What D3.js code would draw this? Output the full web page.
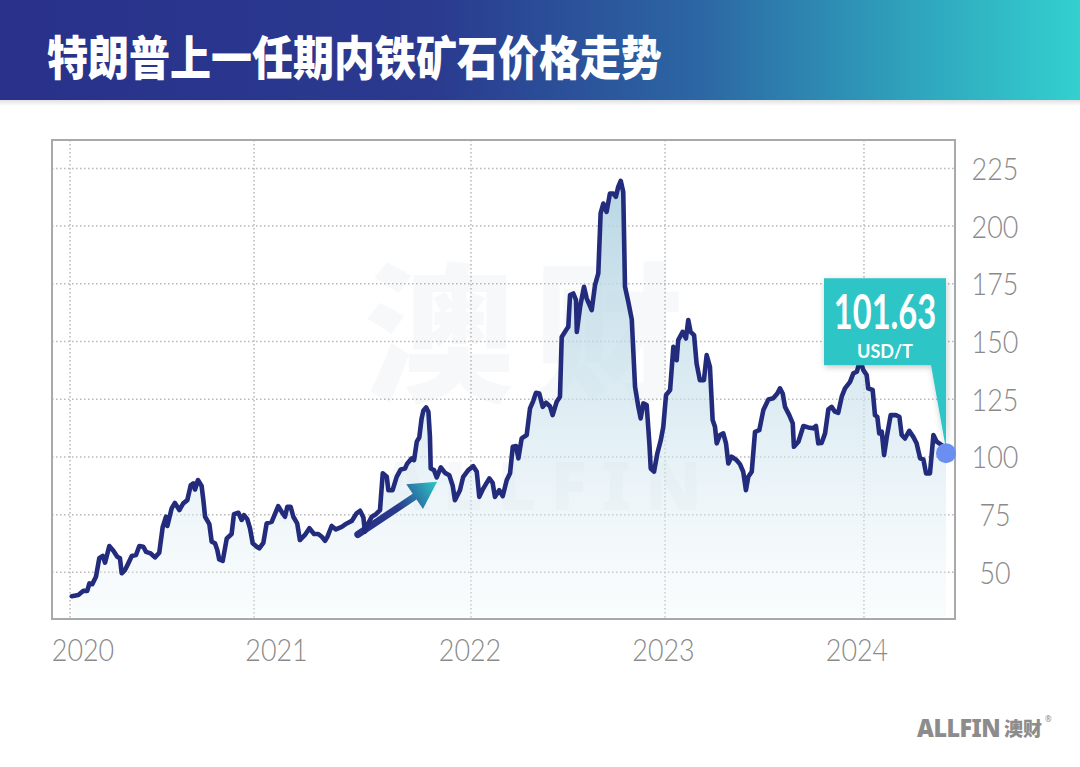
<!DOCTYPE html>
<html><head><meta charset="utf-8">
<script src="https://cdn.jsdelivr.net/npm/d3@7"></script>
<style>
html,body{margin:0;padding:0;background:#fff;}
svg{display:block;}
</style></head>
<body>
<svg id="c" width="1080" height="767"></svg>
<script>
const title = "特朗普上一任期内铁矿石价格走势";
const xTickLabels = [2020, 2021, 2022, 2023, 2024];
const xGridYears = [2019.933, 2020.884, 2022.005, 2023.008, 2024.036];
const yTicks = [50, 75, 100, 125, 150, 175, 200, 225];
const calloutValue = "101.63";
const calloutUnit = "USD/T";
const years = [2019.942,2019.976,2020.002,2020.022,2020.033,2020.048,2020.067,2020.084,2020.102,2020.114,2020.136,2020.157,2020.177,2020.191,2020.200,2020.217,2020.234,2020.252,2020.274,2020.291,2020.312,2020.326,2020.350,2020.372,2020.394,2020.412,2020.429,2020.436,2020.458,2020.475,2020.498,2020.518,2020.539,2020.557,2020.570,2020.579,2020.594,2020.613,2020.622,2020.631,2020.653,2020.665,2020.682,2020.694,2020.704,2020.722,2020.743,2020.768,2020.780,2020.803,2020.820,2020.832,2020.849,2020.863,2020.877,2020.898,2020.911,2020.932,2020.949,2020.975,2021.009,2021.027,2021.044,2021.056,2021.073,2021.087,2021.107,2021.121,2021.147,2021.170,2021.194,2021.216,2021.234,2021.251,2021.263,2021.285,2021.307,2021.337,2021.363,2021.389,2021.414,2021.432,2021.449,2021.457,2021.474,2021.492,2021.514,2021.535,2021.549,2021.570,2021.578,2021.600,2021.621,2021.642,2021.664,2021.676,2021.699,2021.711,2021.725,2021.738,2021.750,2021.759,2021.773,2021.785,2021.793,2021.797,2021.814,2021.828,2021.849,2021.871,2021.893,2021.911,2021.922,2021.948,2021.965,2021.991,2022.017,2022.035,2022.048,2022.069,2022.100,2022.117,2022.129,2022.151,2022.169,2022.190,2022.207,2022.221,2022.238,2022.250,2022.267,2022.293,2022.310,2022.327,2022.341,2022.358,2022.376,2022.393,2022.413,2022.427,2022.448,2022.465,2022.474,2022.496,2022.508,2022.517,2022.534,2022.548,2022.552,2022.569,2022.589,2022.603,2022.629,2022.646,2022.663,2022.675,2022.689,2022.706,2022.723,2022.740,2022.754,2022.766,2022.779,2022.792,2022.801,2022.818,2022.836,2022.853,2022.870,2022.882,2022.896,2022.913,2022.927,2022.934,2022.951,2022.968,2022.986,2022.999,2023.013,2023.034,2023.051,2023.068,2023.076,2023.099,2023.116,2023.128,2023.140,2023.158,2023.171,2023.188,2023.209,2023.223,2023.240,2023.254,2023.266,2023.275,2023.292,2023.309,2023.323,2023.335,2023.352,2023.378,2023.395,2023.412,2023.426,2023.438,2023.456,2023.473,2023.495,2023.516,2023.542,2023.567,2023.588,2023.602,2023.616,2023.628,2023.650,2023.668,2023.674,2023.697,2023.723,2023.748,2023.774,2023.788,2023.800,2023.817,2023.835,2023.852,2023.869,2023.886,2023.903,2023.921,2023.938,2023.964,2023.981,2023.999,2024.016,2024.033,2024.050,2024.058,2024.081,2024.093,2024.105,2024.115,2024.128,2024.140,2024.154,2024.174,2024.201,2024.219,2024.231,2024.248,2024.270,2024.291,2024.308,2024.326,2024.343,2024.357,2024.377,2024.395,2024.412,2024.438,2024.460];
const prices = [39.7,40.2,42.0,42.0,45.2,44.9,48.1,56.1,57.1,54.2,61.4,59.4,56.8,56.1,49.6,51.0,53.9,57.1,57.5,61.4,61.1,58.9,58.2,56.5,58.5,69.7,74.1,70.1,77.7,80.1,77.0,79.9,81.3,87.8,88.5,85.9,90.0,87.4,81.3,74.1,70.9,63.3,62.6,59.7,55.6,55.0,64.7,66.6,75.2,75.8,72.7,74.8,73.0,69.1,62.6,61.1,60.4,62.8,71.2,71.9,78.7,76.2,74.1,78.4,78.4,74.1,71.2,64.0,66.2,69.1,66.6,66.6,65.4,63.7,65.4,70.1,68.6,69.7,71.2,72.3,75.6,76.7,73.8,67.6,71.2,74.1,75.2,77.0,92.9,91.4,85.6,85.6,91.4,94.6,95.0,97.2,99.4,98.6,106.6,108.5,116.7,120.0,121.5,119.6,108.7,95.0,94.3,91.1,95.5,93.1,92.1,87.4,81.3,85.6,91.4,94.3,96.0,93.6,82.7,86.4,90.7,88.8,82.7,85.6,83.0,90.0,92.9,104.4,104.7,99.4,108.0,109.5,121.0,124.3,127.8,127.5,121.7,123.5,122.0,118.1,123.9,126.1,152.0,154.9,156.4,170.1,170.8,167.9,154.2,165.0,173.7,168.7,163.6,174.4,179.5,205.5,209.8,206.2,214.1,214.1,212.7,217.0,219.6,214.8,173.7,167.2,159.6,130.4,121.7,116.7,123.2,122.5,105.9,95.0,93.6,101.5,107.3,113.1,126.8,129.0,147.7,141.9,150.6,154.2,151.3,159.3,154.2,152.8,140.5,133.3,133.3,144.1,139.0,116.0,113.1,105.9,109.5,110.2,105.9,97.2,100.1,98.6,96.9,93.6,85.6,91.4,93.6,110.9,111.6,120.3,124.9,125.4,127.5,129.7,127.5,121.7,118.1,114.5,104.4,106.6,113.4,112.8,112.4,113.4,105.9,106.1,110.2,120.6,121.7,119.6,119.1,126.1,129.7,132.5,136.2,136.9,141.9,137.6,135.5,129.7,129.0,118.1,117.4,110.2,110.9,100.8,108.7,118.1,118.1,117.4,109.5,108.0,111.3,108.7,105.9,99.4,98.9,92.9,92.9,109.5,106.6,105.1,101.63];
const arrowFrom = [2021.420, 66.4];
const arrowTo = [2021.830, 89.3];

const data = years.map((t,i)=>({t, v: prices[i]}));
const svg = d3.select("#c");
const defs = svg.append("defs");

// header gradient
const hg = defs.append("linearGradient").attr("id","hg").attr("x1","0").attr("x2","1").attr("y1","0").attr("y2","0");
[[0,"#29318a"],[0.4,"#2a3a8f"],[0.65,"#2c67a4"],[0.85,"#2fa5bd"],[1,"#33d0cf"]].forEach(s=>hg.append("stop").attr("offset",s[0]).attr("stop-color",s[1]));
const sh = defs.append("linearGradient").attr("id","sh").attr("x1","0").attr("x2","0").attr("y1","0").attr("y2","1");
sh.append("stop").attr("offset",0).attr("stop-color","#000").attr("stop-opacity",0.12);
sh.append("stop").attr("offset",1).attr("stop-color","#000").attr("stop-opacity",0);

svg.append("rect").attr("x",0).attr("y",100).attr("width",1080).attr("height",6).attr("fill","url(#sh)");
svg.append("rect").attr("x",0).attr("y",0).attr("width",1080).attr("height",100).attr("fill","url(#hg)");
svg.append("text").text(title)
  .attr("transform","translate(47,75) scale(1,1.15)")
  .attr("font-family","'Noto Sans CJK SC'").attr("font-weight",900).attr("font-size",41)
  .attr("fill","#fff");

// scales
const L=52, R=955, T=140, B=619;
const x = d3.scaleLinear().domain([2020,2024]).range([83,857]);
const y = d3.scaleLinear().domain([29.8,237.3]).range([B,T]);

// grid
const g = svg.append("g");
g.selectAll(".hg").data(yTicks).join("line")
  .attr("x1",L).attr("x2",R).attr("y1",d=>y(d)).attr("y2",d=>y(d))
  .attr("stroke","#b8b8b8").attr("stroke-width",1.5).attr("stroke-dasharray","1.5,2.5");
g.selectAll(".vg").data(xGridYears).join("line")
  .attr("x1",d=>x(d)).attr("x2",d=>x(d)).attr("y1",T).attr("y2",B)
  .attr("stroke","#b8b8b8").attr("stroke-width",1.5).attr("stroke-dasharray","1.5,2.5");

// watermark
const wm = svg.append("g").attr("opacity",0.028).attr("fill","#1d3b5c");
wm.append("text").text("澳财").attr("x",364).attr("y",390).attr("font-family","'Noto Sans CJK SC'").attr("font-weight",900).attr("font-size",150).attr("letter-spacing",20);
wm.append("text").text("ALLFIN").attr("x",380).attr("y",510).attr("font-family","'Noto Sans'").attr("font-weight",900).attr("font-size",68).attr("letter-spacing",14);

// area
const ag = defs.append("linearGradient").attr("id","ag").attr("gradientUnits","userSpaceOnUse").attr("x1",0).attr("x2",0).attr("y1",y(220)).attr("y2",B);
ag.append("stop").attr("offset",0).attr("stop-color","#b0d1e1").attr("stop-opacity",0.9);
ag.append("stop").attr("offset",0.55).attr("stop-color","#cce3ed").attr("stop-opacity",0.6);
ag.append("stop").attr("offset",1).attr("stop-color","#eef6f9").attr("stop-opacity",0.3);
const area = d3.area().x(d=>x(d.t)).y0(B-2).y1(d=>y(d.v));
svg.append("path").datum(data).attr("d",area).attr("fill","url(#ag)");

// box border
svg.append("rect").attr("x",L).attr("y",T).attr("width",R-L).attr("height",B-T)
  .attr("fill","none").attr("stroke","#a9a9a9").attr("stroke-width",2);

// arrow
{
  const x0=x(arrowFrom[0]), y0=y(arrowFrom[1]), x1=x(arrowTo[0]), y1=y(arrowTo[1]);
  const ang=Math.atan2(y1-y0,x1-x0), len=Math.hypot(x1-x0,y1-y0);
  const ag2 = svg.append("g").attr("transform",`translate(${x0},${y0}) rotate(${ang*180/Math.PI})`);
  const hl = 27, hw = 15;
  const gr2 = defs.append("linearGradient").attr("id","arg2").attr("gradientUnits","userSpaceOnUse").attr("x1",0).attr("y1",0).attr("x2",len).attr("y2",0);
  gr2.append("stop").attr("offset",0).attr("stop-color","#283188");
  gr2.append("stop").attr("offset",0.5).attr("stop-color","#283a8c");
  gr2.append("stop").attr("offset",1).attr("stop-color","#2fc6c8");
  ag2.append("line").attr("x1",0).attr("y1",0).attr("x2",len-hl+4).attr("y2",0)
    .attr("stroke","url(#arg2)").attr("stroke-width",7).attr("stroke-linecap","round");
  ag2.append("path").attr("d",`M${len},0 L${len-hl},${-hw} L${len-hl},${hw} Z`).attr("fill","url(#arg2)");
}

// line
const line = d3.line().x(d=>x(d.t)).y(d=>y(d.v));
svg.append("path").datum(data).attr("d",line).attr("fill","none")
  .attr("stroke","#232c7c").attr("stroke-width",4.6).attr("stroke-linejoin","round").attr("stroke-linecap","round");

// y labels
svg.append("g").selectAll("text").data(yTicks).join("text")
  .attr("transform",d=>`translate(995,${y(d)+11.5}) scale(0.84,1)`)
  .attr("text-anchor","middle").attr("font-family","Lato").attr("font-weight",300)
  .attr("font-size",32).attr("fill","#8a8a8a").text(d=>d);
// x labels
svg.append("g").selectAll("text").data(xTickLabels).join("text")
  .attr("transform",d=>`translate(${x(d)},661) scale(0.84,1)`)
  .attr("text-anchor","middle").attr("font-family","Lato").attr("font-weight",300)
  .attr("font-size",32).attr("fill","#8a8a8a").text(d=>d);

// callout
const last = data[data.length-1];
const tx = x(last.t), ty = y(last.v);
const bx0 = tx-122, bx1 = tx, by0 = ty-175, by1 = ty-88;
const fl = defs.append("filter").attr("id","ds").attr("x","-20%").attr("y","-20%").attr("width","140%").attr("height","140%");
fl.append("feDropShadow").attr("dx",1).attr("dy",2).attr("stdDeviation",3).attr("flood-color","#000").attr("flood-opacity",0.22);
svg.append("path")
  .attr("d",`M${bx0},${by0} L${bx1},${by0} L${bx1},${ty-4} L${bx1-15},${by1} L${bx0},${by1} Z`)
  .attr("fill","#2ec5c6").attr("filter","url(#ds)");
svg.append("text").text(calloutValue)
  .attr("transform",`translate(${(bx0+bx1)/2},${by0+51}) scale(0.68,1)`)
  .attr("text-anchor","middle").attr("font-family","Lato").attr("font-weight",700)
  .attr("font-size",48).attr("fill","#fff");
svg.append("text").text(calloutUnit)
  .attr("x",(bx0+bx1)/2).attr("y",by0+80)
  .attr("text-anchor","middle").attr("font-family","Lato").attr("font-weight",700)
  .attr("font-size",18).attr("fill","#fff");

// end dot
svg.append("circle").attr("cx",tx).attr("cy",ty).attr("r",10).attr("fill","#6b8ff0");

// footer logo
const lg = svg.append("g").attr("fill","#8c8c8c");
lg.append("text").text("ALLFIN").attr("transform","translate(917,737) scale(0.97,1)").attr("font-family","'Noto Sans'").attr("font-weight",900).attr("font-size",24).attr("letter-spacing",-0.5);
lg.append("text").text("澳财").attr("x",1004).attr("y",736).attr("font-family","'Noto Sans CJK SC'").attr("font-weight",900).attr("font-size",19);
lg.append("text").text("®").attr("x",1045).attr("y",722).attr("font-family","'Noto Sans'").attr("font-size",8);
</script>
</body></html>
